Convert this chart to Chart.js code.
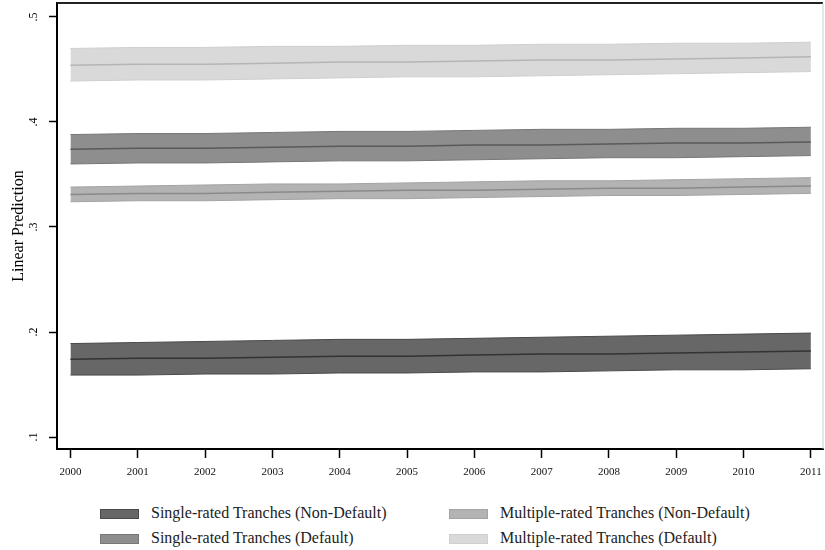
<!DOCTYPE html>
<html>
<head>
<meta charset="utf-8">
<script src="https://cdn.jsdelivr.net/npm/chart.js@4.4.0/dist/chart.umd.min.js"></script>
<style>
  body { margin: 0; background: #fff; }
  #wrap { position: relative; width: 825px; height: 550px; font-family: "Liberation Serif", "DejaVu Serif", serif; }
  #legend { position: absolute; left: 0; top: 503px; width: 825px; }
  .item { position: absolute; height: 20px; font-size: 16px; line-height: 20px; color: #222; white-space: nowrap; }
  .sw { display: inline-block; width: 39px; height: 10px; vertical-align: middle; margin-right: 12px; box-sizing: border-box; }
</style>
</head>
<body>
<div id="wrap">
  <canvas id="chart" width="825" height="490"></canvas>
  <div id="legend"></div>
</div>
<script>
// years on the x axis
const years = [2000, 2001, 2002, 2003, 2004, 2005, 2006, 2007, 2008, 2009, 2010, 2011];
const yTicks = [0.1, 0.2, 0.3, 0.4, 0.5];

// Single-rated Tranches (Non-Default)
const snd_mid = [0.174, 0.175, 0.175, 0.176, 0.177, 0.177, 0.178, 0.179, 0.179, 0.180, 0.181, 0.182];
const snd_hi  = [0.189, 0.190, 0.191, 0.192, 0.193, 0.193, 0.194, 0.195, 0.196, 0.197, 0.198, 0.199];
const snd_lo  = [0.159, 0.159, 0.160, 0.160, 0.161, 0.161, 0.162, 0.162, 0.163, 0.164, 0.164, 0.165];

// Single-rated Tranches (Default)
const sd_mid = [0.374, 0.375, 0.375, 0.376, 0.377, 0.377, 0.378, 0.378, 0.379, 0.380, 0.380, 0.381];
const sd_hi  = [0.388, 0.389, 0.389, 0.390, 0.391, 0.391, 0.392, 0.393, 0.393, 0.394, 0.394, 0.395];
const sd_lo  = [0.360, 0.361, 0.361, 0.362, 0.363, 0.363, 0.364, 0.365, 0.366, 0.366, 0.367, 0.368];

// Multiple-rated Tranches (Non-Default)
const mnd_mid = [0.331, 0.332, 0.332, 0.333, 0.334, 0.335, 0.335, 0.336, 0.337, 0.337, 0.338, 0.339];
const mnd_hi  = [0.338, 0.339, 0.340, 0.341, 0.341, 0.342, 0.343, 0.344, 0.344, 0.345, 0.346, 0.347];
const mnd_lo  = [0.324, 0.325, 0.325, 0.326, 0.327, 0.327, 0.328, 0.329, 0.330, 0.330, 0.331, 0.332];

// Multiple-rated Tranches (Default)
const md_mid = [0.454, 0.455, 0.455, 0.456, 0.457, 0.457, 0.458, 0.459, 0.459, 0.460, 0.461, 0.462];
const md_hi  = [0.470, 0.471, 0.471, 0.472, 0.472, 0.473, 0.473, 0.474, 0.474, 0.475, 0.475, 0.476];
const md_lo  = [0.439, 0.440, 0.440, 0.441, 0.442, 0.443, 0.443, 0.444, 0.445, 0.446, 0.447, 0.448];

const seriesNames = ['Single-rated Tranches (Non-Default)', 'Single-rated Tranches (Default)',
                     'Multiple-rated Tranches (Non-Default)', 'Multiple-rated Tranches (Default)'];
const fills = ['#676767', '#8e8e8e', '#b3b3b3', '#d9d9d9'];
const edges = ['#4a4a4a', '#777777', '#a3a3a3', '#cfcfcf'];
const lines = ['#333333', '#5a5a5a', '#8a8a8a', '#b5b5b5'];

const bands = [
  [snd_lo, snd_hi, snd_mid],
  [sd_lo, sd_hi, sd_mid],
  [mnd_lo, mnd_hi, mnd_mid],
  [md_lo, md_hi, md_mid]
];

function pts(arr) {
  return years.map((x, i) => ({ x: x, y: arr[i] }));
}

const datasets = [];
bands.forEach((b, k) => {
  datasets.push({ data: pts(b[0]), borderColor: edges[k], borderWidth: 1, pointRadius: 0, fill: false, order: 2 });
  datasets.push({ data: pts(b[1]), borderColor: edges[k], borderWidth: 1, pointRadius: 0,
                  backgroundColor: fills[k], fill: '-1', order: 2 });
  // fitted line sits on top of the band
  datasets.push({ data: pts(b[2]), borderColor: lines[k], borderWidth: 1.5, pointRadius: 0, fill: false, order: 0 });
});

// frame on top and right of the plot
const frame = {
  id: 'frame',
  afterDraw(chart) {
    const a = chart.chartArea, c = chart.ctx;
    c.save();
    c.strokeStyle = '#222';
    c.lineWidth = 2;
    c.beginPath();
    c.moveTo(a.left, a.top);
    c.lineTo(a.right, a.top);
    c.stroke();
    c.strokeStyle = '#d0d0d0';
    c.lineWidth = 1;
    c.beginPath();
    c.moveTo(a.right, a.top);
    c.lineTo(a.right, a.bottom);
    c.stroke();
    c.restore();
  }
};

const serif = '"Liberation Serif", "DejaVu Serif", serif';

new Chart(document.getElementById('chart'), {
  type: 'line',
  data: { datasets: datasets },
  options: {
    responsive: false,
    animation: false,
    layout: { padding: { top: 3, right: 2, left: 0, bottom: 0 } },
    plugins: { legend: { display: false }, tooltip: { enabled: false } },
    scales: {
      x: {
        type: 'linear',
        min: 1999.8,
        max: 2011.18,
        afterBuildTicks: (s) => { s.ticks = years.map(v => ({ value: v })); },
        afterFit: (s) => { s.height = 41; s.paddingLeft = 0; s.paddingRight = 0; },
        grid: { drawOnChartArea: false, color: '#000', tickLength: 9, tickWidth: 1.5 },
        border: { color: '#000', width: 2 },
        ticks: {
          color: '#111',
          padding: 8,
          maxRotation: 0,
          font: { family: serif, size: 11 },
          callback: (v) => String(v)
        }
      },
      y: {
        min: 0.0886,
        max: 0.5133,
        afterBuildTicks: (s) => { s.ticks = yTicks.map(v => ({ value: v })); },
        afterFit: (s) => { s.width = 57; s.paddingTop = 0; s.paddingBottom = 0; },
        grid: { drawOnChartArea: false, color: '#000', tickLength: 8, tickWidth: 1.5 },
        border: { color: '#000', width: 2 },
        ticks: {
          color: '#000',
          minRotation: 90,
          maxRotation: 90,
          crossAlign: 'center',
          padding: 11,
          font: { family: serif, size: 12 },
          callback: (v) => String(Math.round(v * 10) / 10).replace(/^0/, '')
        },
        title: {
          display: true,
          text: 'Linear Prediction',
          color: '#000',
          font: { family: serif, size: 16 },
          padding: { top: 9, bottom: 0 }
        }
      }
    }
  },
  plugins: [frame]
});

// legend laid out in two columns, like the original
const legend = document.getElementById('legend');
const legendPos = [
  { left: 100, top: 0 },   // single non-default
  { left: 100, top: 25 },  // single default
  { left: 449, top: 0 },   // multiple non-default
  { left: 449, top: 25 }   // multiple default
];
seriesNames.forEach((name, k) => {
  const d = document.createElement('div');
  d.className = 'item';
  d.style.left = legendPos[k].left + 'px';
  d.style.top = legendPos[k].top + 'px';
  const sw = document.createElement('span');
  sw.className = 'sw';
  sw.style.background = fills[k];
  sw.style.border = '1px solid ' + edges[k];
  d.appendChild(sw);
  d.appendChild(document.createTextNode(name));
  legend.appendChild(d);
});
</script>
</body>
</html>
